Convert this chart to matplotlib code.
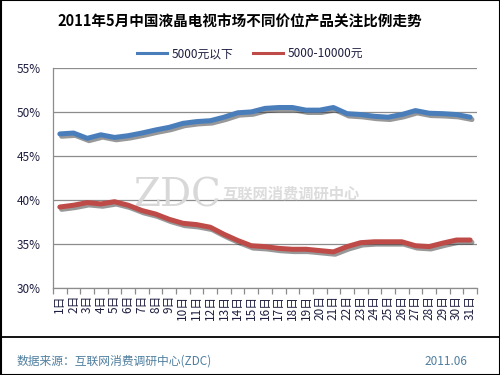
import matplotlib
matplotlib.use("Agg")
import matplotlib.pyplot as plt
import matplotlib.patheffects as pe
from matplotlib.patches import Rectangle
from matplotlib.lines import Line2D
from matplotlib.ticker import FixedLocator, NullFormatter

plt.rcParams['font.family'] = ['Noto Sans CJK SC', 'DejaVu Sans']

title = "2011年5月中国液晶电视市场不同价位产品关注比例走势"
days = [f"{i}日" for i in range(1, 32)]
series_names = ["5000元以下", "5000-10000元"]
below_5000 = [47.5, 47.6, 47.0, 47.4, 47.1, 47.3, 47.6, 47.95, 48.25, 48.7,
              48.9, 49.0, 49.4, 49.9, 50.0, 50.4, 50.5, 50.5, 50.2, 50.2,
              50.5, 49.8, 49.7, 49.5, 49.4, 49.7, 50.15, 49.85, 49.8, 49.7, 49.4]
from_5000_10000 = [39.2, 39.4, 39.7, 39.55, 39.8, 39.4, 38.8, 38.4, 37.8, 37.35,
                   37.2, 36.9, 36.1, 35.4, 34.8, 34.7, 34.5, 34.4, 34.4, 34.25,
                   34.1, 34.7, 35.15, 35.25, 35.25, 35.25, 34.8, 34.7, 35.1, 35.45, 35.45]
yticks = [30, 35, 40, 45, 50, 55]
ytick_labels = ["30%", "35%", "40%", "45%", "50%", "55%"]
source_text = "数据来源：互联网消费调研中心(ZDC)"
date_text = "2011.06"

colors = ["#4a7ebb", "#be4b48"]
text_color = "#1e1e40"

fig = plt.figure(figsize=(5, 3.75), dpi=100)
ax = fig.add_axes([0.106, 0.232, 0.848, 0.587])

x = list(range(len(days)))
shadow = [pe.SimpleLineShadow(offset=(1.3, -1.7), shadow_color='#333333', alpha=0.5),
          pe.Normal()]
for vals, c in zip([below_5000, from_5000_10000], colors):
    ax.plot(x, vals, color=c, lw=3.6, solid_capstyle='round',
            solid_joinstyle='round', path_effects=shadow, zorder=3)

ax.set_xlim(-0.5, len(days) - 0.5)
ax.set_ylim(30, 55)
ax.set_yticks(yticks)
ax.set_yticklabels(ytick_labels, fontsize=8.5, color=text_color)
ax.yaxis.grid(True, color='#8c8c8c', lw=0.9)
ax.set_axisbelow(True)
ax.tick_params(axis='y', length=0, pad=9)

ax.set_xticks(x)
ax.set_xticklabels(days, rotation=90, fontsize=8.5, color=text_color)
ax.tick_params(axis='x', which='major', length=0, pad=5)
ax.xaxis.set_minor_locator(FixedLocator([i - 0.5 for i in range(len(days) + 1)]))
ax.xaxis.set_minor_formatter(NullFormatter())
ax.tick_params(axis='x', which='minor', length=4, color='#8c8c8c', width=0.9)

for s in ['top', 'right']:
    ax.spines[s].set_visible(False)
for s in ['left', 'bottom']:
    ax.spines[s].set_color('#8c8c8c')
    ax.spines[s].set_linewidth(0.9)

# watermark
ax.text(0.19, 0.42, "ZDC", transform=ax.transAxes, fontsize=28, family='DejaVu Serif',
        color='#d8d8d8', ha='left', va='center', zorder=1)
ax.text(0.40, 0.43, "互联网消费调研中心", transform=ax.transAxes, fontsize=11,
        color='#dcdcdc', ha='left', va='center', weight='bold', zorder=1)

fig.text(0.48, 0.944, title, ha='center', va='center', fontsize=10.5,
         weight='bold', color='black')

handles = [Line2D([], [], color=c, lw=2.2) for c in colors]
fig.legend(handles, series_names, loc='center', bbox_to_anchor=(0.5, 0.857),
           ncol=2, frameon=False, fontsize=8.5, handlelength=2.6,
           columnspacing=1.6, handletextpad=0.4, labelcolor=text_color)

fig.add_artist(Line2D([0.0, 1.0], [0.1013, 0.1013], color='black', lw=1.3,
                      transform=fig.transFigure))
fig.text(0.034, 0.037, source_text, ha='left', va='center', fontsize=8.5,
         color='#4f7f9f')
fig.text(0.848, 0.037, date_text, ha='left', va='center', fontsize=8.5,
         color='#4f7f9f')

fig.add_artist(Rectangle((0.001, 0.001), 0.998, 0.998, transform=fig.transFigure,
                         fill=False, edgecolor='black', lw=1.5))

fig.savefig("out.png", dpi=100)
